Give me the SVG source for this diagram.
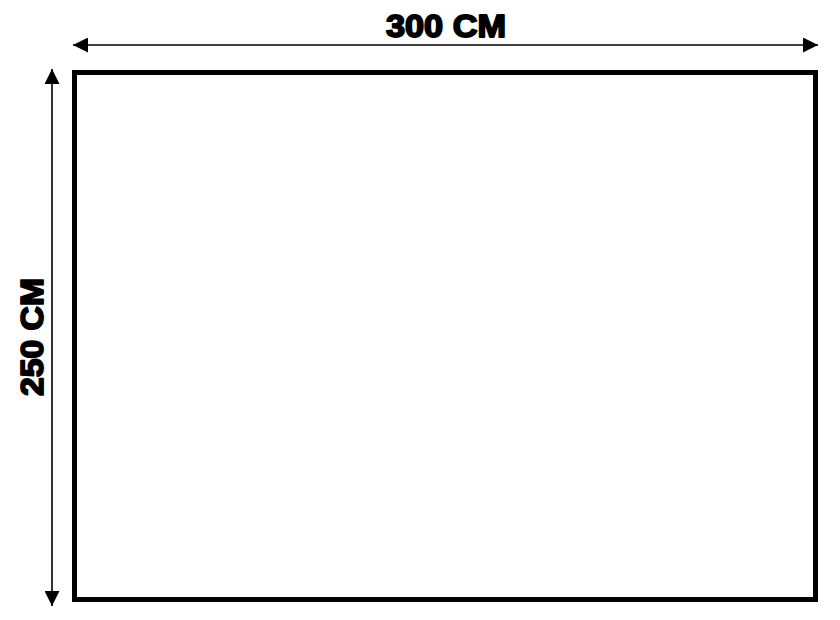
<svg xmlns="http://www.w3.org/2000/svg" width="840" height="620" viewBox="0 0 840 620">
  <style>
    .dim { stroke: #000; stroke-width: 1.6; fill: none; }
    .lbl { font-family: "Liberation Sans", Arial, sans-serif; font-weight: 900; font-size: 31px; fill: #000; stroke: #000; stroke-width: 1.8; stroke-linejoin: round; text-anchor: middle; }
    .frame { fill: #fff; stroke: #000; stroke-width: 5; }
  </style>
  <defs>
    <marker id="ah" viewBox="0 0 15 15" refX="15" refY="7.5" markerWidth="15" markerHeight="15" markerUnits="userSpaceOnUse" orient="auto-start-reverse">
      <path d="M0,0 L15,7.5 L0,15 Z" fill="#000"/>
    </marker>
  </defs>
  <rect width="840" height="620" fill="#fff"/>
  <g id="frame">
    <rect class="frame" x="74.5" y="72.5" width="741" height="527"/>
  </g>
  <g id="connectors">
    <line class="dim" x1="73" y1="45" x2="818" y2="45" marker-start="url(#ah)" marker-end="url(#ah)"/>
    <line class="dim" x1="52" y1="69" x2="52" y2="606" marker-start="url(#ah)" marker-end="url(#ah)"/>
  </g>
  <g id="width-label">
    <text class="lbl" x="446" y="37" textLength="120" lengthAdjust="spacingAndGlyphs">300 CM</text>
  </g>
  <g id="height-label">
    <text class="lbl" transform="translate(43,337) rotate(-90)" x="0" y="0" textLength="118" lengthAdjust="spacingAndGlyphs">250 CM</text>
  </g>
</svg>
